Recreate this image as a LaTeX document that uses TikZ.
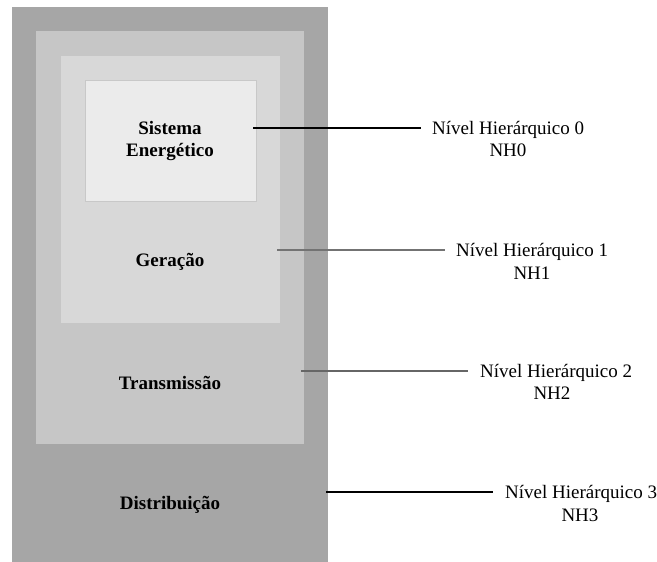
\documentclass[tikz,border=0pt]{standalone}
\usepackage{fontspec}
\setmainfont{Liberation Serif}
\begin{document}
\begin{tikzpicture}[x=1pt,y=-1pt,
  layer/.style={draw=none,inner sep=0pt,anchor=north west},
  title/.style={font=\fontsize{19}{22}\selectfont\bfseries,inner sep=0pt,align=center},
  label/.style={font=\fontsize{19}{22}\selectfont,inner sep=0pt,text height=13pt,text depth=0pt,anchor=west},
  code/.style={font=\fontsize{19}{22}\selectfont,inner sep=0pt},
  leader/.style={line width=1.1pt}]
\useasboundingbox (0,0) rectangle (657,562);
% nested levels
\fill[fill={rgb,255:red,166;green,166;blue,166}] (12,7) rectangle (328,562);
\fill[fill={rgb,255:red,198;green,198;blue,198}] (36,31) rectangle (304,444);
\fill[fill={rgb,255:red,216;green,216;blue,216}] (61,56) rectangle (280,323);
\filldraw[fill={rgb,255:red,235;green,235;blue,235},draw={rgb,255:red,200;green,200;blue,200},line width=0.8pt] (85,80) rectangle (256,201);
% level titles
\node[title] (t0) at (170,141) {Sistema\\Energético};
\node[title] (t1) at (170,262) {Geração};
\node[title] (t2) at (170,383) {Transmissão};
\node[title] (t3) at (170,505) {Distribuição};
% labels
\node[label] (l0) at (432,128) {Nível Hierárquico 0};
\node[code] (n0) at (508,150) {NH0};
\node[label] (l1) at (456,250) {Nível Hierárquico 1};
\node[code] (n1) at (532,273) {NH1};
\node[label] (l2) at (480,371) {Nível Hierárquico 2};
\node[code] (n2) at (552,393) {NH2};
\node[label] (l3) at (505,492) {Nível Hierárquico 3};
\node[code] (n3) at (580,515) {NH3};
% leader start points
\coordinate (c0) at (253,128);
\coordinate (c1) at (277,250);
\coordinate (c2) at (301,371);
\coordinate (c3) at (326,492);
\draw[leader,black] (c0) -- ([xshift=-11pt]l0.west);
\draw[leader,black!55] (c1) -- ([xshift=-11pt]l1.west);
\draw[leader,black!60] (c2) -- ([xshift=-12pt]l2.west);
\draw[leader,black] (c3) -- ([xshift=-12pt]l3.west);
\end{tikzpicture}
\end{document}
